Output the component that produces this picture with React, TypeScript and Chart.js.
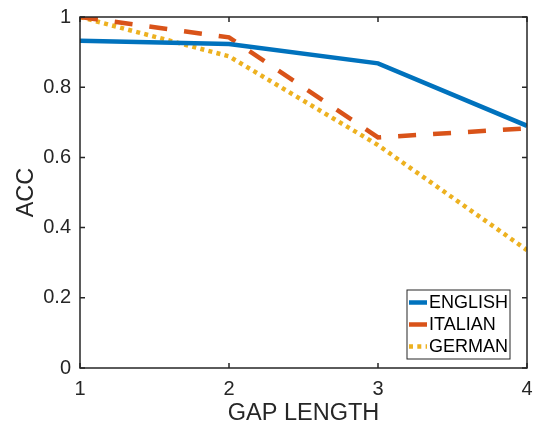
import React, { useEffect, useRef } from "react";
import { Chart, registerables } from "chart.js";

Chart.register(...registerables);

const gapLengths = [1, 2, 3, 4];
const englishAcc = [0.932, 0.923, 0.868, 0.69];
const italianAcc = [1.0, 0.942, 0.657, 0.683];
const germanAcc = [1.0, 0.888, 0.635, 0.336];
const yTicks = [0, 0.2, 0.4, 0.6, 0.8, 1];
const yTickLabels = ["0", "0.2", "0.4", "0.6", "0.8", "1"];
const xTicks = [1, 2, 3, 4];
const xTickLabels = ["1", "2", "3", "4"];

const FONT = "'Liberation Sans', Arial, Helvetica, sans-serif";
const AXIS_COLOR = "#262626";

const framePlugin = {
  id: "matlabFrame",
  afterDatasetsDraw(chart: any) {
    const { ctx, chartArea, scales } = chart;
    const { left, right, top, bottom } = chartArea;
    ctx.save();
    ctx.strokeStyle = AXIS_COLOR;
    ctx.lineWidth = 1.5;
    ctx.setLineDash([]);
    ctx.strokeRect(left, top, right - left, bottom - top);
    const tl = 5;
    ctx.beginPath();
    for (const v of xTicks) {
      const x = scales.x.getPixelForValue(v);
      ctx.moveTo(x, bottom);
      ctx.lineTo(x, bottom - tl);
      ctx.moveTo(x, top);
      ctx.lineTo(x, top + tl);
    }
    for (const v of yTicks) {
      const y = scales.y.getPixelForValue(v);
      ctx.moveTo(left, y);
      ctx.lineTo(left + tl, y);
      ctx.moveTo(right, y);
      ctx.lineTo(right - tl, y);
    }
    ctx.stroke();
    ctx.restore();
  },
  afterDraw(chart: any) {
    const { ctx, chartArea } = chart;
    const datasets = chart.data.datasets;
    const boxRight = chartArea.right - 17;
    const boxBottom = chartArea.bottom - 9;
    const boxW = 103;
    const rowH = 22;
    const boxH = 69;
    const boxLeft = boxRight - boxW;
    const boxTop = boxBottom - boxH;
    ctx.save();
    ctx.fillStyle = "#ffffff";
    ctx.fillRect(boxLeft, boxTop, boxW, boxH);
    ctx.strokeStyle = AXIS_COLOR;
    ctx.lineWidth = 1;
    ctx.setLineDash([]);
    ctx.strokeRect(boxLeft, boxTop, boxW, boxH);
    ctx.font = `18px ${FONT}`;
    ctx.textBaseline = "middle";
    ctx.textAlign = "left";
    datasets.forEach((ds: any, i: number) => {
      const cy = boxTop + 12.5 + i * rowH;
      ctx.strokeStyle = ds.borderColor;
      ctx.lineWidth = ds.borderWidth;
      ctx.lineCap = "butt";
      ctx.setLineDash(ds.borderDash || []);
      ctx.beginPath();
      ctx.moveTo(boxLeft + 2, cy);
      ctx.lineTo(boxLeft + 20, cy);
      ctx.stroke();
      ctx.setLineDash([]);
      ctx.fillStyle = "#000000";
      ctx.fillText(ds.label, boxLeft + 22, cy + 1);
    });
    ctx.restore();
  },
};

export default function App() {
  const canvasRef = useRef<HTMLCanvasElement | null>(null);

  useEffect(() => {
    if (!canvasRef.current) return;
    const mk = (label: string, data: number[], color: string, dash: number[]) => ({
      label,
      data: gapLengths.map((x, i) => ({ x, y: data[i] })),
      borderColor: color,
      backgroundColor: color,
      borderWidth: 4.5,
      borderDash: dash,
      borderCapStyle: "butt",
      pointRadius: 0,
      pointHoverRadius: 0,
      tension: 0,
      fill: false,
    });
    const chart = new Chart(canvasRef.current, {
      type: "line",
      data: {
        datasets: [
          mk("ENGLISH", englishAcc, "#0072BD", []),
          mk("ITALIAN", italianAcc, "#D95319", [18, 17]),
          mk("GERMAN", germanAcc, "#EDB120", [4, 4.3]),
        ] as any,
      },
      options: {
        animation: false,
        responsive: false,
        devicePixelRatio: 1,
        layout: { padding: { left: 0, top: 17, right: 6, bottom: 0 } },
        plugins: {
          legend: { display: false },
          tooltip: { enabled: false },
        },
        scales: {
          x: {
            type: "linear",
            min: 1,
            max: 4,
            afterBuildTicks: (scale: any) => {
              scale.ticks = xTicks.map((v) => ({ value: v }));
            },
            afterFit: (scale: any) => {
              scale.height = 58;
              scale.paddingLeft = 0;
              scale.paddingRight = 0;
            },
            grid: { display: false, drawTicks: false },
            border: { display: false },
            ticks: {
              padding: 9,
              color: AXIS_COLOR,
              font: { family: FONT, size: 20 },
              maxRotation: 0,
              callback: (_v: any, i: number) => xTickLabels[i],
            },
            title: {
              display: true,
              text: "GAP LENGTH",
              color: AXIS_COLOR,
              font: { family: FONT, size: 23.5, lineHeight: 1.05 },
              padding: { top: 0, bottom: 0 },
            },
          },
          y: {
            type: "linear",
            min: 0,
            max: 1,
            afterBuildTicks: (scale: any) => {
              scale.ticks = yTicks.map((v) => ({ value: v }));
            },
            afterFit: (scale: any) => {
              scale.width = 80;
              scale.paddingTop = 0;
              scale.paddingBottom = 0;
            },
            grid: { display: false, drawTicks: false },
            border: { display: false },
            ticks: {
              padding: 9,
              color: AXIS_COLOR,
              font: { family: FONT, size: 20 },
              callback: (_v: any, i: number) => yTickLabels[i],
            },
            title: {
              display: true,
              text: "ACC",
              color: AXIS_COLOR,
              font: { family: FONT, size: 23.5, lineHeight: 1.2 },
              padding: { top: 12, bottom: 0 },
            },
          },
        },
      },
      plugins: [framePlugin],
    });
    return () => chart.destroy();
  }, []);

  return (
    <div style={{ position: "absolute", left: 0, top: 0, width: 533, height: 426, background: "#fff" }}>
      <canvas ref={canvasRef} width={533} height={426} />
    </div>
  );
}
